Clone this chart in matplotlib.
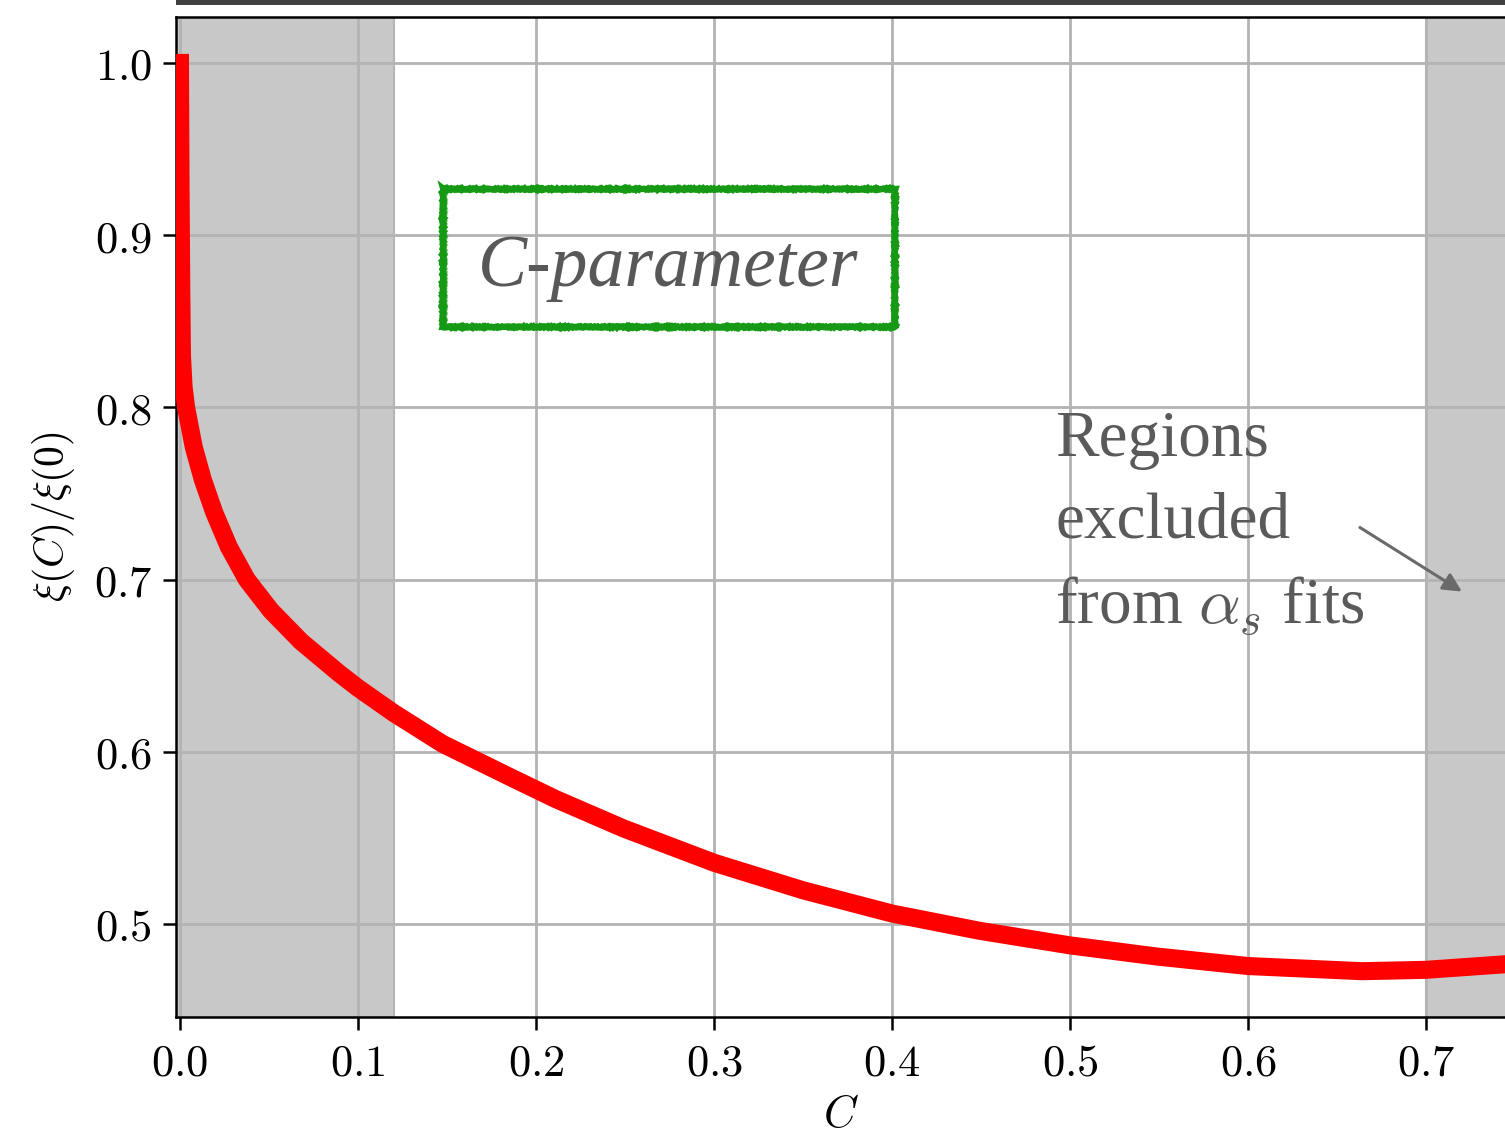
import numpy as np
import matplotlib
matplotlib.use("Agg")
import matplotlib.pyplot as plt
from matplotlib.patches import Rectangle
from matplotlib.ticker import FormatStrFormatter

# curve
c_vals = [0.0, 0.0003, 0.0007, 0.0011, 0.002, 0.0034, 0.0077, 0.0128, 0.0192, 0.0274,
          0.0375, 0.051, 0.068, 0.0894, 0.1, 0.12, 0.1476, 0.185, 0.2, 0.211,
          0.249, 0.3, 0.35, 0.4, 0.449, 0.5, 0.549, 0.6, 0.664, 0.7, 0.744]
xi_ratio = [1.0, 0.93, 0.87, 0.83, 0.812, 0.800, 0.777, 0.758, 0.739, 0.719,
            0.700, 0.682, 0.664, 0.6455, 0.637, 0.6225, 0.6045, 0.5855, 0.578, 0.5725,
            0.5555, 0.5355, 0.5195, 0.506, 0.496, 0.4875, 0.481, 0.4755, 0.4725, 0.4733, 0.4765]

excluded = [(-0.01, 0.12), (0.7, 0.80)]
x_ticks = [0.0, 0.1, 0.2, 0.3, 0.4, 0.5, 0.6, 0.7]
y_ticks = [0.5, 0.6, 0.7, 0.8, 0.9, 1.0]

plt.rcParams['mathtext.fontset'] = 'cm'

fig = plt.figure(figsize=(15.05, 11.35), dpi=100)
ax = fig.add_axes([176 / 1505, 1 - 1017 / 1135, 1 - 176 / 1505, 1000 / 1135])

# dark strip along the top (clipped title bar)
fig.patches.append(Rectangle((176 / 1505, 1 - 5 / 1135), 1, 5 / 1135,
                             transform=fig.transFigure, color='#404040', lw=0))

for lo, hi in excluded:
    ax.axvspan(lo, hi, facecolor='#c8c8c8', edgecolor='#b5b5b5', lw=1.5, zorder=0)

ax.plot(c_vals, xi_ratio, color='#ff0000', lw=13, solid_capstyle='projecting',
        solid_joinstyle='round', zorder=3)

ax.set_xlim(-0.00225, 0.7444)
ax.set_ylim(0.4459, 1.0267)
ax.set_xticks(x_ticks)
ax.set_yticks(y_ticks)
ax.xaxis.set_major_formatter(FormatStrFormatter(r'$%.1f$'))
ax.yaxis.set_major_formatter(FormatStrFormatter(r'$%.1f$'))
ax.tick_params(labelsize=32, length=9.5, width=1.8, pad=8)
ax.grid(True, color='#b3b3b3', lw=2)
ax.set_axisbelow(True)
for s in ax.spines.values():
    s.set_linewidth(1.8)
ax.spines['right'].set_visible(False)

ax.set_xlabel(r'$C$', fontsize=32, labelpad=6)
ax.set_ylabel(r'$\xi(C)/\xi(0)$', fontsize=30, labelpad=12)

# rough green label box
box_kw = dict(fill=False, edgecolor='#169a16', zorder=4)
r1 = Rectangle((0.1478, 0.8465), 0.2539, 0.0802, lw=4.5, **box_kw)
r1.set_sketch_params(scale=0.6, length=3, randomness=2)
ax.add_patch(r1)
r2 = Rectangle((0.1492, 0.8478), 0.2512, 0.0778, lw=1.5, alpha=0.6, **box_kw)
r2.set_sketch_params(scale=0.8, length=3, randomness=2)
ax.add_patch(r2)
ax.text(0.2742, 0.881, 'C-parameter', fontsize=53, style='italic',
        family='Liberation Serif', color='#585858', ha='center', va='center', zorder=5)

ax.text(0.4916, 0.798, 'Regions\nexcluded\nfrom $\\alpha_s$ fits', fontsize=47,
        family='Liberation Serif', color='#5a5a5a', ha='left', va='top',
        linespacing=1.47, zorder=5)
ax.annotate('', xy=(0.7202, 0.693), xytext=(0.6629, 0.7302),
            arrowprops=dict(arrowstyle='-|>', color='#6a6a6a', lw=2.2,
                            mutation_scale=28, shrinkA=0, shrinkB=0), zorder=5)

fig.savefig('out.png', dpi=100)
